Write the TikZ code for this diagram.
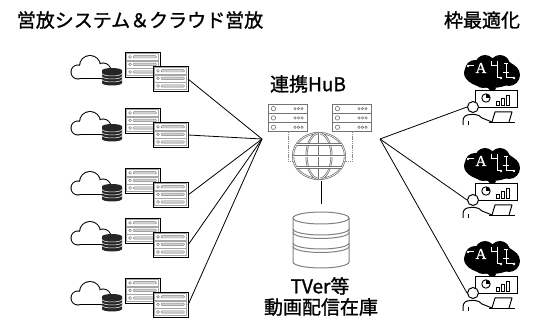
\documentclass[tikz,border=0pt]{standalone}
\usepackage{fontspec}
\setmainfont{Noto Sans CJK JP}[FakeBold=1.2]
\newfontfamily\glyphfont{Liberation Serif}[FakeBold=1]

\tikzset{
  link/.style={line width=.8pt},
  label/.style={inner sep=0pt, font=\fontsize{19}{19}\selectfont},
  globe/.style={draw=black!55, double=white, double distance=.55pt, line width=.75pt},
  chain/.style={draw=black!45, double=white, double distance=.4pt, line width=.8pt, dash pattern=on 1.2pt off .6pt},
  % small rack with three slots
  rack/.pic={
    \draw[fill=white, line width=.8pt] (0,0) rectangle (35,25);
    \foreach \r in {0,1,2}{
      \pgfmathsetmacro\ry{1.3+7.6*\r}
      \draw[gray!70, line width=.5pt] (1.5,\ry) rectangle (33.5,\ry+7);
      \draw[gray, line width=.5pt] (5,\ry+3.5) circle (1.4);
      \draw[gray, fill=gray!35, line width=.4pt, rounded corners=1pt] (8,\ry+2.3) rectangle (31.5,\ry+4.7);
    }
  },
  % rack of the hub
  hubrack/.pic={
    \foreach \r in {0,1,2}{
      \pgfmathsetmacro\ry{9.3*\r}
      \draw[black!55, fill=white, line width=.8pt] (0,\ry) rectangle (39,\ry+9.3);
      \draw[black!55, line width=.6pt] (5.5,\ry+4.65) circle (2.2);
      \foreach \c in {27,30.5,34} \draw[black!55, line width=.5pt] (\c,\ry+4.65) circle (1.2);
    }
  }
}

\begin{document}
\begin{tikzpicture}[x=1pt, y=-1pt]

  \useasboundingbox (0,0) rectangle (539,320);

  % Titles
  \node[label] (siteTitle) at (140,20) {営放システム＆クラウド営放};
  \node[label] (optTitle) at (482,20) {枠最適化};

  % Define the ends of the connectors
  \coordinate (hubL) at (262,139);
  \coordinate (hubR) at (380,139);

  % Draw the sites: cloud, disks and two racks
  \foreach \i/\t in {1/52,2/108,3/168,4/218,5/278}{
    \begin{scope}[shift={(125,\t)}]
      % cloud outline
      \draw[line width=2pt] (-47,20) circle (6.5);
      \draw[line width=2pt] (-35,14) circle (10);
      \draw[line width=2pt] (-22,19) circle (7.5);
      \draw[line width=2pt] (-47,17) rectangle (-22,26.5);
      \fill[white] (-47,20) circle (6.5);
      \fill[white] (-35,14) circle (10);
      \fill[white] (-22,19) circle (7.5);
      \fill[white] (-47,17) rectangle (-22,26.5);
      % disks
      \fill[black!85] (-23,18.5) -- (-23,31) arc[start angle=180, end angle=0, x radius=10, y radius=2.5]
        -- (-3,18.5) arc[start angle=0, end angle=-180, x radius=10, y radius=2.5] -- cycle;
      \foreach \s in {21.5,24.5,27.5}
        \draw[white, line width=.5pt] (-23,\s) arc[start angle=180, end angle=0, x radius=10, y radius=2.5];
      % racks
      \pic at (0,0) {rack};
      \pic at (28,14) {rack};
      \coordinate (site\i) at (63,27);
    \end{scope}
    \draw[link] (site\i) -- (hubL);
  }

  % Draw the hub
  \node[label] (hubLabel) at (308,84) {連携HuB};
  \pic at (268,104) {hubrack};
  \pic at (332,104) {hubrack};
  \draw[chain] (287.5,132) -- (287.5,162) -- (294,162);
  \draw[chain] (351.5,132) -- (351.5,162) -- (344,162);

  \def\gx{319}
  \def\gy{156}
  \draw[globe, fill=white] (\gx,\gy) ellipse (26 and 23);
  \draw[globe] (\gx,\gy) ellipse (12.5 and 23);
  \draw[globe] (\gx,\gy-23) -- (\gx,\gy+23);
  \draw[globe] (\gx-26,\gy) -- (\gx+26,\gy);
  \draw[globe] (\gx-22.5,\gy-11.5) -- (\gx+22.5,\gy-11.5);
  \draw[globe] (\gx-22.5,\gy+11.5) -- (\gx+22.5,\gy+11.5);

  % Draw the store
  \coordinate (globeS) at (321,181);
  \coordinate (dbN) at (321,204);
  \draw[link] (globeS) -- (dbN);

  \def\dx{321}
  \begin{scope}[black!50, line width=1pt]
    \draw (\dx,218) ellipse (28 and 6);
    \draw (\dx-28,218) -- (\dx-28,262) arc[start angle=180, end angle=0, x radius=28, y radius=6] -- (\dx+28,218);
    \foreach \s in {229,232.5,243,246.5}
      \draw (\dx-28,\s) arc[start angle=180, end angle=0, x radius=28, y radius=6];
  \end{scope}
  \node[label] (dbLabel) at (320,286) {TVer等};
  \node[label] (dbLabel2) at (321,307) {動画配信在庫};

  % Draw the AI planners
  \foreach \i/\h in {1/107,2/200,3/293}{
    \begin{scope}[shift={(473,\h)}]
      % brain
      \fill (18,-34) ellipse (27 and 15);
      \fill (2,-37) circle (10);
      \fill (12,-42) circle (10);
      \fill (27,-42) circle (10);
      \fill (36,-32) circle (11);
      \fill (10,-28) circle (9);
      \fill (15,-19) -- (23,-19) -- (20,-13) -- cycle;
      \node[white, inner sep=0pt, font=\glyphfont\fontsize{15}{15}\selectfont] at (8,-39) {A};
      \begin{scope}[white, line width=1pt]
        \draw (-5,-41) -- (1,-41);
        \fill (-5,-41) circle (1.3);
        \draw (18,-46) -- (18,-41) -- (25,-41);
        \draw (24,-46) -- (24,-29) -- (28,-29);
        \draw (31,-43) -- (35,-43) (33,-43) -- (33,-34) (30,-34) -- (36,-34);
        \draw (33,-34) -- (33,-29) -- (41,-29);
        \fill (28,-29) circle (1.3) (41,-29) circle (1.3);
      \end{scope}
      % board
      \draw[fill=white, line width=.9pt] (2,-17) rectangle (44,0);
      \draw[line width=.9pt] (13,-9) circle (4.2);
      \fill (13,-9) -- (13,-13.2) arc[start angle=-90, end angle=0, radius=4.2] -- cycle;
      \draw[line width=.8pt] (23,-2) rectangle (26,-6) (28,-2) rectangle (31,-9) (33,-2) rectangle (36,-12);
      % person and laptop
      \draw[fill=white, line width=1pt] (0,0) circle (5.5);
      \draw[line width=1pt, line join=round] (-10,18) -- (-10,14) .. controls (-10,9.5) and (-7,7.5) .. (-2,7.5)
        -- (2,7.5) .. controls (5,7.5) and (7,9) .. (9,11) -- (19,15);
      \draw[line width=1pt] (-4.5,18) -- (-4.5,14);
      \draw[line width=1pt, line join=round] (19,15) -- (22,5) -- (39,5) -- (36,15);
      \draw[line width=1pt] (16,16) -- (42,16);
      \coordinate (ai\i) at (-6,0);
    \end{scope}
    \draw[link] (hubR) -- (ai\i);
  }

\end{tikzpicture}
\end{document}
